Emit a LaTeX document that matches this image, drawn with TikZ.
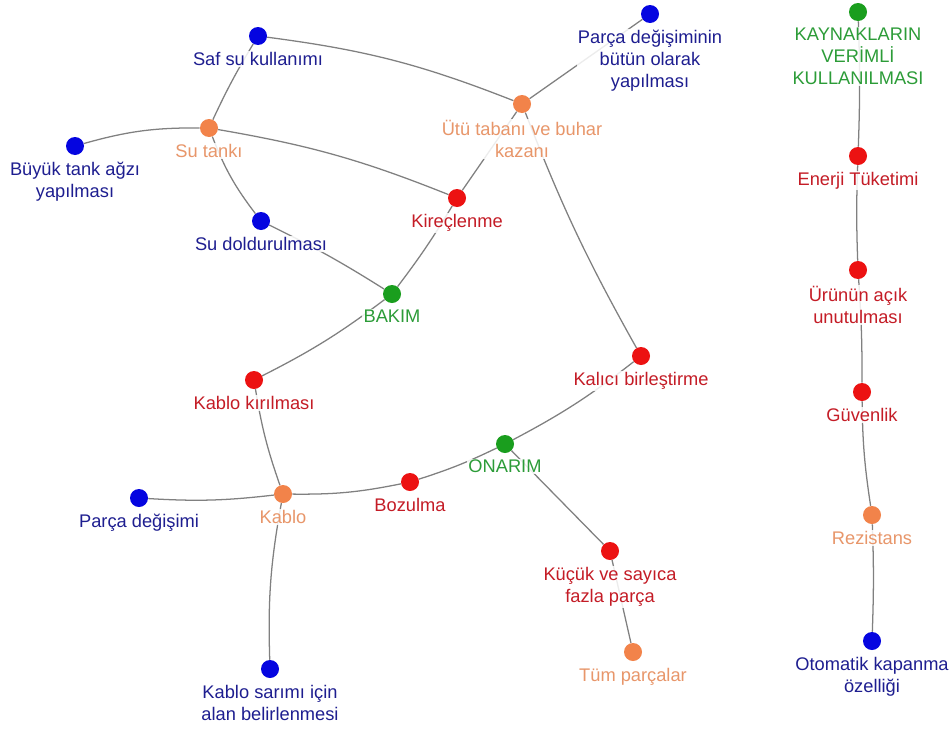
\documentclass[tikz,border=0pt]{standalone}
\usepackage{fontspec}
\setmainfont{Liberation Sans}
\usetikzlibrary{backgrounds}
\definecolor{dotblue}{HTML}{0505E0}
\definecolor{txtblue}{HTML}{1E1E90}
\definecolor{dotred}{HTML}{EC1212}
\definecolor{txtred}{HTML}{C41C26}
\definecolor{dotorange}{HTML}{F2834A}
\definecolor{txtorange}{HTML}{E8966A}
\definecolor{dotgreen}{HTML}{1A9E1E}
\definecolor{txtgreen}{HTML}{2C9C38}
\definecolor{edgegray}{HTML}{808080}
\begin{document}
\begin{tikzpicture}[x=0.75pt,y=-0.75pt,
  dot/.style={circle,inner sep=0pt,minimum size=13.5pt},
  lbl/.style={font=\fontsize{13.7}{16.5}\selectfont,align=center,inner sep=1pt,
    yshift=-3.9pt,fill=white,fill opacity=0.85,text opacity=1},
  bnode/.style={dot,fill=dotblue,label={[lbl,text=txtblue]below:{#1}}},
  rnode/.style={dot,fill=dotred,label={[lbl,text=txtred]below:{#1}}},
  onode/.style={dot,fill=dotorange,label={[lbl,text=txtorange]below:{#1}}},
  gnode/.style={dot,fill=dotgreen,label={[lbl,text=txtgreen]below:{#1}}},
  edge/.style={draw=edgegray,line width=0.95pt}]
\useasboundingbox (0,0) rectangle (952,728);

\node[bnode={Saf su kullanımı}] (saf) at (258,36) {};
\node[onode={Su tankı}] (tank) at (209,128) {};
\node[bnode={Büyük tank ağzı\\yapılması}] (buyuk) at (75,146) {};
\node[bnode={Su doldurulması}] (dold) at (261,221) {};
\node[rnode={Kireçlenme}] (kirec) at (457,198) {};
\node[onode={Ütü tabanı ve buhar\\kazanı}] (utu) at (522,104) {};
\node[bnode={Parça değişiminin\\bütün olarak\\yapılması}] (butun) at (650,14) {};
\node[gnode={BAKIM}] (bakim) at (392,294) {};
\node[rnode={Kablo kırılması}] (kirilma) at (254,380) {};
\node[rnode={Kalıcı birleştirme}] (kalici) at (641,356) {};
\node[gnode={ONARIM}] (onarim) at (505,444) {};
\node[rnode={Bozulma}] (bozulma) at (410,482) {};
\node[onode={Kablo}] (kablo) at (283,494) {};
\node[bnode={Parça değişimi}] (pdeg) at (139,498) {};
\node[bnode={Kablo sarımı için\\alan belirlenmesi}] (sarim) at (270,669) {};
\node[rnode={Küçük ve sayıca\\fazla parça}] (kucuk) at (610,551) {};
\node[onode={Tüm parçalar}] (tum) at (633,652) {};

\node[gnode={KAYNAKLARIN\\VERİMLİ\\KULLANILMASI}] (kaynak) at (858,12) {};
\node[rnode={Enerji Tüketimi}] (enerji) at (858,156) {};
\node[rnode={Ürünün açık\\unutulması}] (urun) at (858,270) {};
\node[rnode={Güvenlik}] (guven) at (862,392) {};
\node[onode={Rezistans}] (rez) at (872,515) {};
\node[bnode={Otomatik kapanma\\özelliği}] (oto) at (872,641) {};

\begin{scope}[on background layer]
\fill[white] (0,0) rectangle (952,728);
\draw[edge] (saf) to[bend left=7] (utu);
\draw[edge] (saf) to[bend right=3] (tank);
\draw[edge] (buyuk) to[bend left=8] (tank);
\draw[edge] (tank) to[bend left=6] (kirec);
\draw[edge] (tank) to[bend right=8] (dold);
\draw[edge] (dold) to[bend left=3] (bakim);
\draw[edge] (kirec) to[bend left=3] (bakim);
\draw[edge] (kirec) -- (utu);
\draw[edge] (utu) -- (butun);
\draw[edge] (utu) to[bend right=4] (kalici);
\draw[edge] (kalici) to[bend left=5] (onarim);
\draw[edge] (onarim) to[bend left=4] (bozulma);
\draw[edge] (onarim) -- (kucuk);
\draw[edge] (kucuk) -- (tum);
\draw[edge] (kablo) to[bend right=6] (bozulma);
\draw[edge] (kablo) to[bend left=5] (pdeg);
\draw[edge] (kablo) to[bend left=5] (kirilma);
\draw[edge] (kablo) to[bend right=6] (sarim);
\draw[edge] (kirilma) to[bend right=5] (bakim);
\draw[edge] (kaynak) to[bend left=2] (enerji);
\draw[edge] (enerji) to[bend right=2] (urun);
\draw[edge] (urun) to[bend left=2] (guven);
\draw[edge] (guven) to[bend right=4] (rez);
\draw[edge] (rez) to[bend left=2] (oto);
\end{scope}
\end{tikzpicture}
\end{document}
